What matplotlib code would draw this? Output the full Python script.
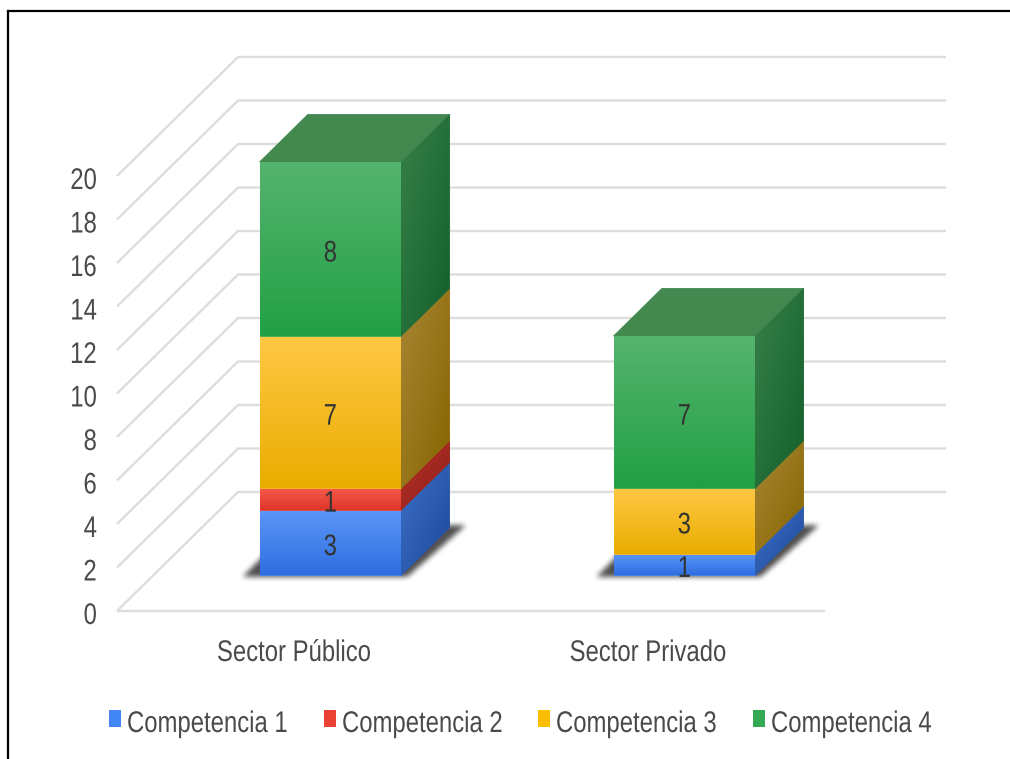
import numpy as np
import matplotlib
matplotlib.use("Agg")
import matplotlib.pyplot as plt
from matplotlib.patches import Polygon, Rectangle
from matplotlib.path import Path
from matplotlib.lines import Line2D
from matplotlib.colors import to_rgb
from matplotlib.patheffects import AbstractPathEffect
from matplotlib.transforms import Affine2D

# ---- data -------------------------------------------------------------
categories = ["Sector Público", "Sector Privado"]
series_names = ["Competencia 1", "Competencia 2", "Competencia 3", "Competencia 4"]
competencia_1 = [3, 1]
competencia_2 = [1, 0]
competencia_3 = [7, 3]
competencia_4 = [8, 7]
y_ticks = [0, 2, 4, 6, 8, 10, 12, 14, 16, 18, 20]

series_values = [competencia_1, competencia_2, competencia_3, competencia_4]

# ---- style ------------------------------------------------------------
plt.rcParams["font.family"] = ["Liberation Sans", "DejaVu Sans"]
FS = 21.5
TEXT_COLOR = "#4a4a4a"
LABEL_COLOR = "#333333"
GRID_COLOR = "#dddddd"

legend_colors = ["#4285f4", "#ea4335", "#fbbc04", "#34a853"]
front_colors = [("#5c97f8", "#2e6ee0"), ("#f55a4a", "#df3529"),
                ("#ffc845", "#e9ad00"), ("#55b46e", "#22a045")]
side_colors = [("#3f72c8", "#1b4699"), ("#b83228", "#8c1f18"),
               ("#a98634", "#856400"), ("#37804a", "#14602a")]
top_colors = ["#3b6fc7", "#b53a30", "#b48a1e", "#43894f"]


class Narrow(AbstractPathEffect):
    """Draw text glyphs horizontally condensed around the aligned edge."""

    def __init__(self, sx=0.80, anchor="left"):
        super().__init__()
        self.sx = sx
        self.anchor = anchor

    def draw_path(self, renderer, gc, tpath, affine, rgbFace=None):
        ext = tpath.get_extents()
        if self.anchor == "right":
            px = ext.x1
        elif self.anchor == "center":
            px = (ext.x0 + ext.x1) / 2
        else:
            px = 0.0
        squeeze = Affine2D().translate(-px, 0).scale(self.sx, 1).translate(px, 0)
        renderer.draw_path(gc, tpath, squeeze + affine, rgbFace)


def narrow(anchor):
    return [Narrow(0.80, anchor)]


# pseudo-3D geometry (data units: categories on x, values on y)
PX_CAT, PX_VAL = 354.0, 21.75          # pixel size of one unit
DX, DY = 121.0 / PX_CAT, 119.0 / PX_VAL  # depth vector of the box
HALF_W = 0.2
Z0, Z1 = 0.3, 0.7


def P(x, y, z):
    return (x + z * DX, y + z * DY)


W, H = 1010, 759
fig = plt.figure(figsize=(W / 100, H / 100), dpi=100)
ax = fig.add_axes([0, 0, 1, 1])
ax.axis("off")

x_org, y_org = 294.0, 611.0
XLIM = (-x_org / PX_CAT, (W - x_org) / PX_CAT)
YLIM = (-(H - y_org) / PX_VAL, y_org / PX_VAL)


def grad_fill(verts, c0, c1, mode, zorder):
    c0, c1 = np.array(to_rgb(c0)), np.array(to_rgb(c1))
    mid = (c0 + c1) / 2
    ax.add_patch(Polygon(verts, closed=True, facecolor=mid, edgecolor=mid,
                         lw=0.6, zorder=zorder))
    clip = Polygon(verts, closed=True, facecolor="none", edgecolor="none")
    ax.add_patch(clip)
    xs = [v[0] for v in verts]
    ys = [v[1] for v in verts]
    n = 80
    i = np.linspace(0, 1, n)[:, None]
    j = np.linspace(0, 1, n)[None, :]
    t = i * np.ones_like(j) if mode == "v" else (i + j) / 2
    img = (1 - t)[..., None] * c0 + t[..., None] * c1
    im = ax.imshow(img, extent=(min(xs), max(xs), min(ys), max(ys)),
                   origin="upper", aspect="auto", interpolation="bilinear",
                   zorder=zorder + 0.01)
    im.set_clip_path(clip)


def box_blur(a, r):
    k = 2 * r + 1
    p = np.pad(a, r)
    c = np.cumsum(p, axis=1)
    c = np.concatenate([np.zeros((c.shape[0], 1)), c], axis=1)
    h = (c[:, k:] - c[:, :-k]) / k
    c = np.cumsum(h, axis=0)
    c = np.concatenate([np.zeros((1, c.shape[1])), c], axis=0)
    return (c[k:] - c[:-k]) / k


def shadow(xc):
    ux, uy = 1 / PX_CAT, 1 / PX_VAL
    fl = P(xc - HALF_W, 0, Z0)
    fr = P(xc + HALF_W, 0, Z0)
    br = P(xc + HALF_W, 0, Z1)
    bl = P(xc - HALF_W, 0, Z1)
    poly = [(fl[0] - 17 * ux, fl[1] - 1.5 * uy), (fr[0] + 5 * ux, fr[1] - 1.5 * uy),
            (br[0] + 15 * ux, br[1] + 2 * uy), (bl[0] - 17 * ux, bl[1] + 2 * uy)]
    pad = 12
    xs = [v[0] for v in poly]
    ys = [v[1] for v in poly]
    x0, x1 = min(xs) - pad * ux, max(xs) + pad * ux
    y0, y1 = min(ys) - pad * uy, max(ys) + pad * uy
    nx = int(round((x1 - x0) / ux))
    ny = int(round((y1 - y0) / uy))
    gx = x0 + (np.arange(nx) + 0.5) * (x1 - x0) / nx
    gy = y0 + (np.arange(ny) + 0.5) * (y1 - y0) / ny
    GX, GY = np.meshgrid(gx, gy)
    mask = Path(poly).contains_points(np.c_[GX.ravel(), GY.ravel()]).reshape(ny, nx)
    a = box_blur(box_blur(mask.astype(float), 3), 2)
    rgba = np.zeros((ny, nx, 4))
    rgba[..., :3] = 0.12
    rgba[..., 3] = a * 0.78
    ax.imshow(rgba, extent=(x0, x1, y0, y1), origin="lower", aspect="auto",
              interpolation="bilinear", zorder=2)


# ---- walls and gridlines ---------------------------------------------
x_left, x_right = -0.5, len(categories) - 0.5
for v in y_ticks:
    ax.plot([x_left, x_left + DX, x_right + DX], [v, v + DY, v + DY],
            color=GRID_COLOR, lw=1.7, zorder=1, solid_capstyle="butt",
            solid_joinstyle="miter")
    ax.text(x_left - 20 / PX_CAT, v - 13 / PX_VAL, str(v), ha="right",
            va="baseline", fontsize=FS, color=TEXT_COLOR,
            path_effects=narrow("right"))
ax.plot([x_left, x_right], [0, 0], color=GRID_COLOR, lw=1.7, zorder=1,
        solid_capstyle="butt")

# ---- stacked boxes ---------------------------------------------------
for ci, name in enumerate(categories):
    xc = float(ci)
    shadow(xc)
    bottom = 0.0
    vals = [s[ci] for s in series_values]
    top_idx = max(k for k, v in enumerate(vals) if v > 0)
    for si, v in enumerate(vals):
        if v <= 0:
            continue
        b, t = bottom, bottom + v
        zo = 3 + si * 0.1
        front = [P(xc - HALF_W, b, Z0), P(xc + HALF_W, b, Z0),
                 P(xc + HALF_W, t, Z0), P(xc - HALF_W, t, Z0)]
        side = [P(xc + HALF_W, b, Z0), P(xc + HALF_W, b, Z1),
                P(xc + HALF_W, t, Z1), P(xc + HALF_W, t, Z0)]
        grad_fill(front, *front_colors[si], "v", zo)
        grad_fill(side, *side_colors[si], "d", zo)
        if si == top_idx:
            top = [P(xc - HALF_W, t, Z0), P(xc + HALF_W, t, Z0),
                   P(xc + HALF_W, t, Z1), P(xc - HALF_W, t, Z1)]
            ax.add_patch(Polygon(top, closed=True, facecolor=top_colors[si],
                                 edgecolor=top_colors[si], lw=0.6, zorder=zo))
        lx, ly = P(xc, b + v / 2, Z0)
        ax.text(lx, ly - 12.5 / PX_VAL, f"{v:g}", ha="center", va="baseline",
                fontsize=FS, color=LABEL_COLOR, zorder=6,
                path_effects=narrow("center"))
        bottom = t
    ax.text(xc, -50 / PX_VAL, name, ha="center", va="baseline", fontsize=FS,
            color=TEXT_COLOR, path_effects=narrow("center"))

ax.set_xlim(*XLIM)
ax.set_ylim(*YLIM)

# ---- legend ----------------------------------------------------------
legend_x = [109, 324, 538, 753]
for name, col, lx in zip(series_names, legend_colors, legend_x):
    fig.add_artist(Rectangle((lx / W, 1 - 727 / H), 12 / W, 17 / H,
                             transform=fig.transFigure, facecolor=col,
                             edgecolor="none"))
    fig.text((lx + 18) / W, 1 - 732 / H, name, ha="left", va="baseline",
             fontsize=FS, color=TEXT_COLOR, path_effects=narrow("left"))

# ---- outer frame -----------------------------------------------------
fx, fy = 8 / W, 1 - 11 / H
fig.add_artist(Line2D([fx, fx], [0, fy], transform=fig.transFigure,
                      color="black", lw=1.6))
fig.add_artist(Line2D([fx, 1], [fy, fy], transform=fig.transFigure,
                      color="black", lw=1.6))

fig.savefig("out.png", dpi=100)
